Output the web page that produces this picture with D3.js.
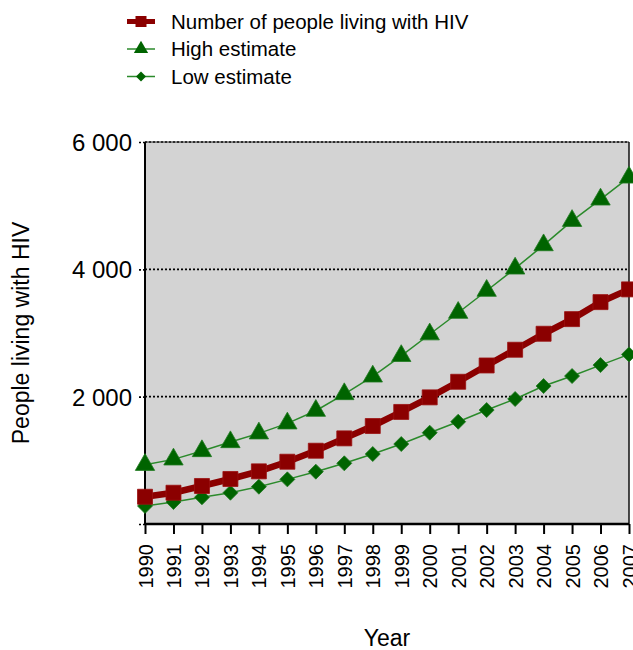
<!DOCTYPE html>
<html>
<head>
<meta charset="utf-8">
<script src="https://cdn.jsdelivr.net/npm/d3@7"></script>
<style>
  body { margin: 0; background: #fff; }
  svg { display: block; font-family: "Liberation Sans", Arial, sans-serif; }
</style>
</head>
<body>
<div class="Canvas"></div>
<script>
// Data (people living with HIV, by year)
const years = [1990, 1991, 1992, 1993, 1994, 1995, 1996, 1997, 1998, 1999,
               2000, 2001, 2002, 2003, 2004, 2005, 2006, 2007];
const peopleLiving = [428, 491, 597, 707, 827, 978, 1151, 1345, 1539, 1760,
                      1989, 2234, 2490, 2737, 2988, 3218, 3485, 3685];
const highEstimate = [930, 1015, 1146, 1287, 1424, 1581, 1779, 2041, 2318, 2640,
                      2980, 3318, 3664, 4014, 4380, 4762, 5098, 5443];
const lowEstimate = [283, 345, 419, 491, 586, 701, 822, 953, 1099, 1256,
                     1434, 1607, 1790, 1963, 2167, 2324, 2496, 2664];
const yTicks = [0, 2000, 4000, 6000];
const seriesNames = ['Number of people living with HIV', 'High estimate', 'Low estimate'];

const width = 633, height = 650;
const plot = { left: 145, right: 629, top: 142, bottom: 524 };

const svg = d3.select('.Canvas').append('svg')
    .attr('width', width)
    .attr('height', height);

const x = d3.scaleLinear().domain([1990, 2007]).range([plot.left, plot.right]);
const y = d3.scaleLinear().domain([0, 6000]).range([plot.bottom, plot.top]);

// thousands separated by a space, like "6 000"
const fmt = d3.formatLocale({ decimal: '.', thousands: '\u00a0', grouping: [3], currency: ['', ''] }).format(',');

// grey plot area
svg.append('rect')
    .attr('x', plot.left).attr('y', plot.top)
    .attr('width', plot.right - plot.left).attr('height', plot.bottom - plot.top)
    .attr('fill', '#d3d3d3');

// dotted grid lines
svg.append('g')
    .selectAll('line')
    .data(yTicks.filter((d) => d > 0))
    .enter()
    .append('line')
    .attr('x1', plot.left).attr('x2', plot.right)
    .attr('y1', (d) => y(d)).attr('y2', (d) => y(d))
    .attr('stroke', '#000')
    .attr('stroke-width', 1.6)
    .attr('stroke-dasharray', '2,2');

// frame (top and right thin)
svg.append('line').attr('x1', plot.left).attr('x2', plot.right).attr('y1', plot.top).attr('y2', plot.top)
    .attr('stroke', '#222').attr('stroke-width', 1.2);
svg.append('line').attr('x1', plot.right).attr('x2', plot.right).attr('y1', plot.top).attr('y2', plot.bottom)
    .attr('stroke', '#111').attr('stroke-width', 1.5);

// y axis
const yAxis = svg.append('g')
    .attr('transform', `translate(${plot.left},0)`)
    .call(d3.axisLeft(y).tickValues(yTicks).tickSize(8).tickPadding(5).tickFormat((d) => (d === 0 ? '' : fmt(d))));
yAxis.select('.domain').attr('stroke', '#000').attr('stroke-width', 2).attr('d', `M0,${plot.top}V${plot.bottom}`);
yAxis.selectAll('.tick line').attr('stroke', '#000').attr('stroke-width', 1.6).attr('stroke-dasharray', '2,2');
yAxis.selectAll('.tick text')
    .attr('font-size', 24)
    .attr('font-family', '"Liberation Sans", Arial, sans-serif')
    .attr('fill', '#000')
    .attr('dy', '0.36em');

// x axis
const xAxis = svg.append('g')
    .attr('transform', `translate(0,${plot.bottom})`)
    .call(d3.axisBottom(x).tickValues(years).tickSize(10).tickFormat(d3.format('d')));
xAxis.select('.domain').attr('stroke', '#000').attr('stroke-width', 2.5).attr('d', `M${plot.left},0H${plot.right}`);
xAxis.selectAll('.tick line').attr('stroke', '#000').attr('stroke-width', 2);
xAxis.selectAll('.tick text')
    .attr('font-size', 20)
    .attr('font-family', '"Liberation Sans", Arial, sans-serif')
    .attr('fill', '#000')
    .attr('text-anchor', 'end')
    .attr('y', 0).attr('dy', 0)
    .attr('transform', 'translate(7,20) rotate(-90)');

// axis titles
svg.append('text')
    .attr('transform', `translate(29,${(plot.top + plot.bottom) / 2}) rotate(-90)`)
    .attr('text-anchor', 'middle')
    .attr('font-size', 23)
    .text('People living with HIV');
svg.append('text')
    .attr('x', 387).attr('y', 646)
    .attr('text-anchor', 'middle')
    .attr('font-size', 23)
    .text('Year');

// series
const series = [
    { name: seriesNames[1], values: highEstimate, line: '#2b8a2b', lw: 1.5, fill: '#006400', shape: 'triangle' },
    { name: seriesNames[2], values: lowEstimate, line: '#2b8a2b', lw: 1.5, fill: '#006400', shape: 'diamond' },
    { name: seriesNames[0], values: peopleLiving, line: '#8b0000', lw: 6.5, fill: '#8b0000', shape: 'square' },
];

const symbolPath = (shape, s) => {
    if (shape === 'square') return d3.symbol().type(d3.symbolSquare).size(s * s)();
    if (shape === 'triangle') return d3.symbol().type(d3.symbolTriangle).size(s * s * 0.45)();
    // diamond: square turned by 45 degrees
    const h = s / 2;
    return `M0,${-h}L${h},0L0,${h}L${-h},0Z`;
};
const markerSize = { square: 15, triangle: 19, diamond: 15 };
const legendSize = { square: 11, triangle: 14, diamond: 10 };

const line = d3.line().x((d) => x(d.year)).y((d) => y(d.value));

series.forEach((s) => {
    const pts = years.map((yr, i) => ({ year: yr, value: s.values[i] }));
    const g = svg.append('g');
    g.append('path')
        .datum(pts)
        .attr('d', line)
        .attr('fill', 'none')
        .attr('stroke', s.line)
        .attr('stroke-width', s.lw);
    g.selectAll('path.mark')
        .data(pts)
        .enter()
        .append('path')
        .attr('class', 'mark')
        .attr('transform', (d) => `translate(${x(d.year)},${y(d.value)})`)
        .attr('d', symbolPath(s.shape, markerSize[s.shape]))
        .attr('fill', s.fill)
        .attr('stroke', s.fill === '#8b0000' ? '#9a1010' : '#1f7a1f')
        .attr('stroke-width', 0.8);
});

// legend
const legendOrder = [series[2], series[0], series[1]];
const legend = svg.append('g')
    .selectAll('g')
    .data(legendOrder)
    .enter()
    .append('g')
    .attr('transform', (d, i) => `translate(141,${21.5 + i * 27.5})`);
legend.append('line')
    .attr('x1', -14).attr('x2', 14)
    .attr('stroke', (d) => d.line)
    .attr('stroke-width', (d) => (d.lw > 2 ? 5 : 1.5));
legend.append('path')
    .attr('d', (d) => symbolPath(d.shape, legendSize[d.shape]))
    .attr('fill', (d) => d.fill);
legend.append('text')
    .attr('x', 30)
    .attr('dy', '0.36em')
    .attr('font-size', 20.5)
    .text((d) => d.name);
</script>
</body>
</html>
